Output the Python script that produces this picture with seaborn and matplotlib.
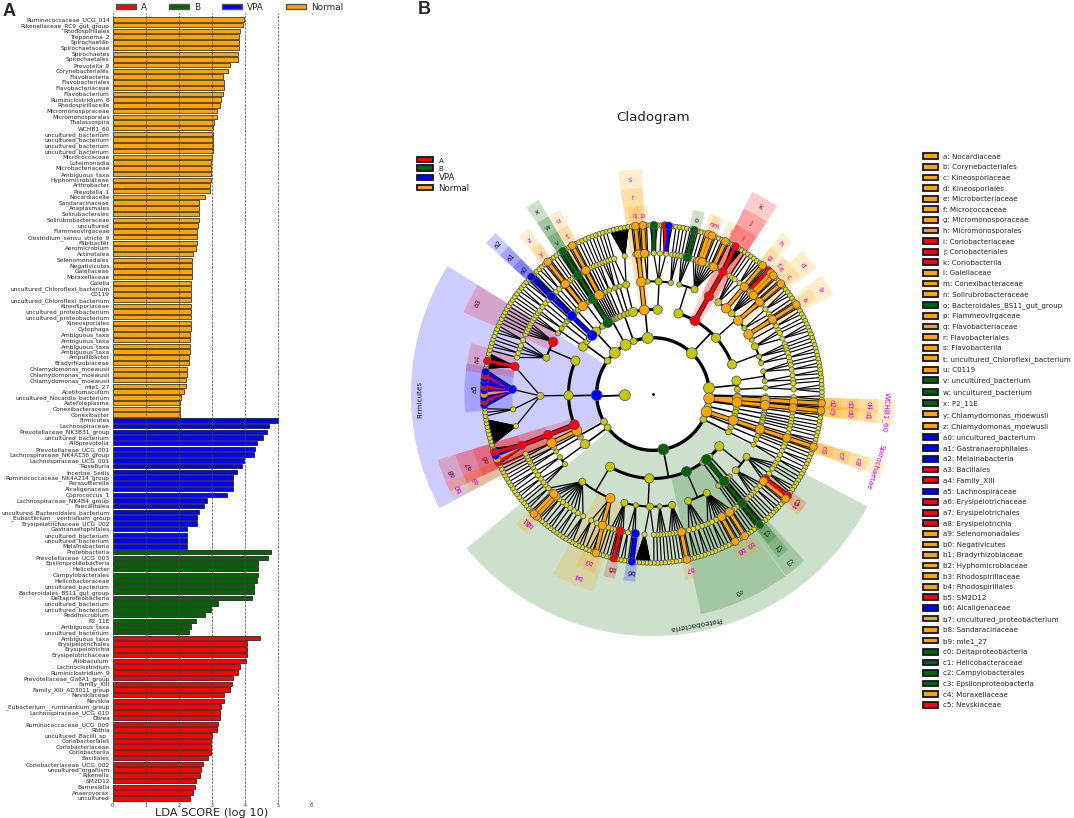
import numpy as np
import pandas as pd
import matplotlib
matplotlib.use('Agg')
import matplotlib.pyplot as plt
from matplotlib.collections import LineCollection
from matplotlib.patches import Patch, Wedge
import seaborn as sns

# ── Panel A data: LDA scores per group ────────────────────────────────────────
normal_taxa = [
    'Ruminococcaceae_UCG_014', 'Rikenellaceae_RC9_gut_group', 'Rhodospirillales', 'Treponema_2',
    'Spirochaetae', 'Spirochaetaceae', 'Spirochaetes', 'Spirochaetales', 'Prevotella_9',
    'Corynebacteriales', 'Flavobacteria', 'Flavobacteriales', 'Flavobacteriaceae', 'Flavobacterium',
    'Ruminiclostridium_6', 'Rhodospirillaceae', 'Micromonosporaceae', 'Micromonosporales',
    'Thalassospira', 'WCHB1_60', 'uncultured_bacterium', 'uncultured_bacterium',
    'uncultured_bacterium', 'uncultured_bacterium', 'Micrococcaceae', 'Luteimonadia',
    'Microbacteriaceae', 'Ambiguous_taxa', 'Hyphomicrobiaceae', 'Arthrobacter', 'Prevotella_1',
    'Nocardiaceae', 'Sandaracinaceae', 'Anaplasmales', 'Solirubacterales', 'Solirubrobacteraceae',
    'uncultured', 'Flammeovirgaceae', 'Clostridium_sensu_stricto_9', 'Fabibacter', 'Aeromicrobium',
    'Actinotalea', 'Selenomonadales', 'Negativicutes', 'Galellaceae', 'Moraxellaceae', 'Galella',
    'uncultured_Chloroflexi_bacterium', 'C0119', 'uncultured_Chloroflexi_bacterium',
    'Kineosporiaceae', 'uncultured_proteobacterium', 'uncultured_proteobacterium', 'Kineosporiales',
    'Cytophaga', 'Ambiguous_taxa', 'Ambiguous_taxa', 'Ambiguous_taxa', 'Ambiguous_taxa',
    'Ampullibacter', 'Bradyrhizobiaceae', 'Chlamydomonas_moewusii', 'Chlamydomonas_moewusii',
    'Chlamydomonas_moewusii', 'mle1_27', 'Acetitomaculum', 'uncultured_Nocardia_bacterium',
    'Asteroleplasma', 'Conexibacteraceae', 'Conexibacter',
]
normal_scores = [
    3.95, 3.94, 3.85, 3.82, 3.82, 3.82, 3.78, 3.77, 3.55, 3.47, 3.34, 3.35, 3.35, 3.34, 3.27, 3.24,
    3.15, 3.16, 3.05, 3.03, 3.02, 3.02, 3.02, 3.02, 3.00, 2.98, 2.97, 2.96, 2.96, 2.95, 2.94, 2.79,
    2.62, 2.62, 2.60, 2.60, 2.58, 2.56, 2.55, 2.55, 2.53, 2.42, 2.41, 2.40, 2.39, 2.39, 2.38, 2.38,
    2.38, 2.38, 2.36, 2.36, 2.36, 2.36, 2.36, 2.34, 2.33, 2.34, 2.34, 2.32, 2.30, 2.25, 2.25, 2.23,
    2.22, 2.15, 2.08, 2.05, 2.05, 2.05,
]
vpa_taxa = [
    'Firmicutes', 'Lachnospiraceae', 'Prevotellaceae_NK3B31_group', 'uncultured_bacterium',
    'Alloprevotella', 'Prevotellaceae_UCG_001', 'Lachnospiraceae_NK4A136_group',
    'Lachnospiraceae_UCG_001', 'Roseburia', 'Incertae_Sedis', 'Ruminococcaceae_NK4A214_group',
    'Parasutterella', 'Alcaligenaceae', 'Coprococcus_1', 'Lachnospiraceae_NK4B4_group', 'Faecalitalea',
    'uncultured_Bacteroidales_bacterium', '_Eubacterium__ventriosum_group',
    'Erysipelotrichaceae_UCG_002', 'Gastranaerophilales', 'uncultured_bacterium',
    'uncultured_bacterium', 'Melainabacteria',
]
vpa_scores = [
    5.00, 4.73, 4.67, 4.53, 4.36, 4.31, 4.27, 3.96, 3.90, 3.74, 3.63, 3.62, 3.62, 3.45, 2.84, 2.75,
    2.62, 2.54, 2.54, 2.25, 2.25, 2.25, 2.25,
]
b_taxa = [
    'Proteobacteria', 'Prevotellaceae_UCG_003', 'Epsilonproteobacteria', 'Helicobacter',
    'Campylobacterales', 'Helicobacteraceae', 'uncultured_bacterium', 'Bacteroidales_BS11_gut_group',
    'Deltaproteobacteria', 'uncultured_bacterium', 'uncultured_bacterium', 'Pedomicrobium', 'P2_11E',
    'Ambiguous_taxa', 'uncultured_bacterium',
]
b_scores = [4.77, 4.69, 4.39, 4.38, 4.38, 4.37, 4.26, 4.26, 4.20, 3.19, 2.98, 2.78, 2.53, 2.36, 2.32]
a_taxa = [
    'Ambiguous_taxa', 'Erysipelotrichales', 'Erysipelotrichia', 'Erysipelotrichaceae', 'Allobaculum',
    'Lachnoclostridium', 'Ruminiclostridium_9', 'Prevotellaceae_Ga6A1_group', 'Family_XIII',
    'Family_XIII_AD3011_group', 'Nevskiaceae', 'Nevskia', '_Eubacterium__ruminantium_group',
    'Lachnospiraceae_UCG_010', 'Dorea', 'Ruminococcaceae_UCG_009', 'Rothia', 'uncultured_Bacilli_sp_',
    'Coriobacteriales', 'Coriobacteriaceae', 'Coriobacteriia', 'Bacillales',
    'Coriobacteriaceae_UCG_002', 'uncultured_organism', 'Rikenella', 'SM2D12', 'Barnesiella',
    'Anaerovorax', 'uncultured',
]
a_scores = [
    4.46, 4.05, 4.05, 4.05, 4.03, 3.85, 3.78, 3.62, 3.60, 3.53, 3.36, 3.36, 3.27, 3.25, 3.25, 3.19,
    3.14, 3.00, 2.98, 2.97, 2.97, 2.88, 2.73, 2.67, 2.65, 2.53, 2.48, 2.44, 2.34,
]
score_ticks = [0, 1, 2, 3, 4, 5, 6]
group_names = ['A', 'B', 'VPA', 'Normal']

# ── Panel B data: clade legend ────────────────────────────────────────────────
clade_keys = list('abcdefghijklmnopqrstuvwxyz') + ['a%d' % i for i in range(10)] + \
    ['b%d' % i for i in range(10)] + ['c%d' % i for i in range(6)]
clade_names = [
    'Nocardiaceae', 'Corynebacteriales', 'Kineosporiaceae', 'Kineosporiales', 'Microbacteriaceae',
    'Micrococcaceae', 'Micromonosporaceae', 'Micromonosporales', 'Coriobacteriaceae',
    'Coriobacteriales', 'Coriobacteriia', 'Galellaceae', 'Conexibacteraceae', 'Solirubrobacteraceae',
    'Bacteroidales_BS11_gut_group', 'Flammeovirgaceae', 'Flavobacteriaceae', 'Flavobacteriales',
    'Flavobacteriia', 'uncultured_Chloroflexi_bacterium', 'C0119', 'uncultured_bacterium',
    'uncultured_bacterium', 'P2_11E', 'Chlamydomonas_moewusii', 'Chlamydomonas_moewusii',
    'uncultured_bacterium', 'Gastranaerophilales', 'Melainabacteria', 'Bacillales', 'Family_XIII',
    'Lachnospiraceae', 'Erysipelotrichaceae', 'Erysipelotrichales', 'Erysipelotrichia',
    'Selenomonadales', 'Negativicutes', 'Bradyrhizobiaceae', 'Hyphomicrobiaceae', 'Rhodospirillaceae',
    'Rhodospirillales', 'SM2D12', 'Alcaligenaceae', 'uncultured_proteobacterium', 'Sandaracinaceae',
    'mle1_27', 'Deltaproteobacteria', 'Helicobacteraceae', 'Campylobacterales', 'Epsilonproteobacteria',
    'Moraxellaceae', 'Nevskiaceae',
]
clade_groups = list('oooooooo' + 'rrr' + 'ooo' + 'g' + 'oooooo' + 'ggg' + 'oo' + 'bbb' + 'rr' + 'b' +
                    'rrr' + 'oo' + 'oooo' + 'r' + 'b' + 'ooo' + 'gggg' + 'o' + 'r')

# ── Panel B data: the taxonomic tree, clockwise from 3 o'clock ────────────────
# a tuple is (tags, children...), where the tags are one node per level and "o:q" means
# colour o, clade label q; a list is a yellow node; a number is a yellow branch with that many genera
wchb = ('o:WCHB1_60', ('o:d4 o:d3 o:d2 o',), 1, ('o:d1 o:d0 o:c9 o',))
before_spiro = [[1, 1], [1, 1], [1, 2]]
spirochaetae = ('o:Spirochaetae o:c8 o:c7 o:c6 o',)
after_spiro = [[1, 1], [1, 2]]
small_right = [[[1, 2]]]
proteobacteria = ('g:Proteobacteria',
    ('y', [1, 1, 1, 3, ('r:c5 r',), ('o:c4 o',)], [1, 1, 2, 1, 1]),
    [1, 1],
    ('g:c3', [1], ('g:c2 g:c1 g',), [1]),
    [1, 1],
    ('g:c0', [1, ('o:b9 o',), 1, 1, ('o:b8 o',), 1, 1, 2, 1], [1, 1, 2, 1, 2]),
    ('y', [1, ('o:b7 o',), 1, 1, 1, 1], [1, 1, 1, 1], [1, 5], [('b:b6 b',), 1, 2],
     [1, ('r:b5 r',), 1, 1, 1]),
    ('y', ('o:b4', 1, ('o:b3', ('o',), 1, 1), 1, 3),
     [3, 1, 2, 1, 2, 1, 2, ('o:b2 o',), ('o:b1 o',), 1, 2]),
)
small_lower_a = [[[1, 1, 2], [1, 2]]]
small_lower_b = [[[1, 1]], [[1, 1]]]
firmicutes = ('b:Firmicutes',
    ('o:b0 o:a9', 1, 1),
    ('r:a8 r:a7 r:a6', ('r',), ('o',), ('b',), ('r',), ('y',)),
    ('y y', 8, 3,
     ('b:a5', ('b',), ('r',), ('b',), ('o',), ('b',), ('r',), ('b',), ('b',), ('r',), ('b',)),
     ('r:a4', 2, ('r',), 2)),
    ('y', [1, 2, 1, 1, 3], ('r:a3', 1, 1, 1, 1, 1)),
)
small_left = [[[1, 1, 1], [1, 1]], [[2]]]
melaina = [[1, 2], ('b:a2 b:a1 b:a0 b',), [1, 1, 2, 1], ('y', ('o:z o:y o',), 1, 1, 1)]
chloroflexi = [1, ('g:x g:w g:v g',), 1, 1, ('y o:u o:t o',), 1, 1, 1]
small_top = [[[1, 1]], [[1, 1, 1]], 1]
bacteroidetes = [[[1, 6]], ('o:s o:r', 1, ('o:q o',), 1),
                 ('y', [('o:p o',), 1], ('y', ('y', ('y',), ('g',), 1), 1, ('y', ('r',), ('b',), 1)),
                  [1, 1, 1])]
actinobacteria = [
    ('y', [1, 1, ('g:o g',), 1], [1, 1, ('o:n o',), ('o:m o',), 1, 1, 1, ('o:l o',), 1]),
    ('r:k r:j r:i', 1, ('r',), 2),
    ('y', [1, 1, 1, 3], ('o:h o:g o',), [1, ('y r',), ('o:f o',), ('o:e o',), 1],
     ('o:d', 1, ('o:c o',), 1), [3, 1], ('o:b', 1, ('o:a o',), 1), [2]),
    [[1, 1, 3], [1, 1, 1], [1, 2]],
]
small_end = [[[1, 1, 2], [2, 1]], [[1, 3]]]
phyla = [2, wchb, 2, before_spiro, spirochaetae, after_spiro, small_right, proteobacteria,
         small_lower_a, small_lower_b, firmicutes, small_left, melaina, chloroflexi, small_top,
         bacteroidetes, actinobacteria, small_end]

# ── Styles ────────────────────────────────────────────────────────────────────
W, H = 1074, 818
group_colors = {'A': '#ff0000', 'B': '#006400', 'VPA': '#0000ff', 'Normal': '#ffa500'}
code_colors = {'r': '#ff0000', 'g': '#006400', 'b': '#0000ff', 'o': '#ffa500',
               'y': '#c8c800', 'l': '#dcdc10'}
label_colors = {'r': '#661122', 'g': '#0c2c0c', 'b': '#101060', 'o': '#cc00cc'}


def px_rect(left, top, right, bottom):
    return [left / W, 1 - bottom / H, (right - left) / W, (bottom - top) / H]


sns.set_style('white')
fig = plt.figure(figsize=(W / 100, H / 100), dpi=100)

# ── Panel A: LDA bars ─────────────────────────────────────────────────────────
taxa = normal_taxa + vpa_taxa + b_taxa + a_taxa
bars = pd.DataFrame({
    'row': np.arange(len(taxa)),
    'score': normal_scores + vpa_scores + b_scores + a_scores,
    'group': ['Normal'] * len(normal_taxa) + ['VPA'] * len(vpa_taxa) + ['B'] * len(b_taxa) + ['A'] * len(a_taxa),
})
ax_bar = fig.add_axes(px_rect(112.5, 14, 311.5, 802))
sns.barplot(data=bars, x='score', y='row', hue='group', hue_order=group_names, palette=group_colors,
            orient='y', dodge=False, width=0.78, saturation=1, edgecolor='black', linewidth=0.45,
            legend=False, ax=ax_bar)
ax_bar.set_xlim(0, 6)
ax_bar.set_ylim(136.65, -0.94)
ax_bar.set_xticks(score_ticks)
ax_bar.set_yticks(bars['row'])
ax_bar.set_yticklabels(taxa, fontsize=4.2, color='#222222')
ax_bar.tick_params(axis='y', length=0, pad=2)
ax_bar.tick_params(axis='x', length=1, width=0.5, labelsize=3.4, pad=0, top=True, bottom=True, color='#333333')
ax_bar.set_axisbelow(False)
ax_bar.grid(axis='x', linestyle='--', linewidth=0.5, color='#444444')
ax_bar.grid(axis='y', visible=False)
ax_bar.set_ylabel('')
ax_bar.set_xlabel('LDA SCORE (log 10)', fontsize=8.2, color='#222222', va='center')
ax_bar.xaxis.set_label_coords(0.5, -0.0138)
sns.despine(ax=ax_bar, left=True, bottom=True, right=True, top=True)

top_handles = [Patch(facecolor=group_colors[g], edgecolor='#555555', linewidth=1.0) for g in group_names]
fig.legend(handles=top_handles, labels=group_names, loc='upper left', bbox_to_anchor=(116 / W, 1 - 2.5 / H),
           ncol=4, frameon=False, fontsize=6.4, handlelength=2.2, handleheight=0.45, handletextpad=0.6,
           columnspacing=2.5, borderpad=0, borderaxespad=0)

fig.text(3 / W, 1 - 11 / H, 'A', fontsize=13, fontweight='bold', family='Liberation Sans', va='center')
fig.text(418 / W, 1 - 9 / H, 'B', fontsize=13, fontweight='bold', family='Liberation Sans', va='center')


# ── Panel B: tree building and layout ─────────────────────────────────────────
def new_node(tag, level, children):
    code, _, label = tag.partition(':')
    return {'code': code, 'label': label, 'level': level, 'children': children}


def make_children(items, level):
    out = []
    for item in items:
        if isinstance(item, int):
            if level == 4:
                out += [new_node('y', 5, []) for _ in range(item)]
            else:
                out.append(new_node('y', level + 1, make_children([item], level + 1)))
        elif isinstance(item, list):
            out.append(new_node('y', level + 1, make_children(item, level + 1)))
        else:
            tags = item[0].split()
            children = make_children(item[1:], level + len(tags))
            for i in range(len(tags) - 1, -1, -1):
                node = new_node(tags[i], level + 1 + i, children)
                children = [node]
            out.append(node)
    return out


root = new_node('y', 0, make_children(phyla, 0))


def collect(node, acc):
    acc.append(node)
    for child in node['children']:
        collect(child, acc)
    return acc


all_nodes = collect(root, [])
n_slots = sum(1 for n in all_nodes if not n['children'])
step = 360.0 / n_slots
slot = [0]


def place(node):
    if node['children']:
        for child in node['children']:
            place(child)
        node['theta'] = 0.5 * (node['children'][0]['theta'] + node['children'][-1]['theta'])
        node['low'] = node['children'][-1]['low']
        node['high'] = node['children'][0]['high']
        node['slots'] = sum(c['slots'] for c in node['children'])
    else:
        node['theta'] = -step * (slot[0] + 0.5)
        node['low'] = node['high'] = node['theta']
        node['slots'] = 1
        slot[0] += 1


place(root)


def polar(r, theta):
    return r * np.cos(np.radians(theta)), r * np.sin(np.radians(theta))


# node radius in ring units, one ring being 28.15 px
def ring(level):
    return level + 1.0


ax = fig.add_axes(px_rect(653 - 261.8, 394 - 261.8, 653 + 261.8, 394 + 261.8))

# shaded clade bands and their labels
band_end = {1: 8.6, 2: 8.0, 3: 7.33, 4: 6.7}
label_ring = {1: 8.3, 2: 7.65, 3: 7.0, 4: 6.35}
pad = 1.8
for node in all_nodes:
    if not node['label']:
        continue
    lev = node['level']
    r0 = ring(lev)
    ax.add_patch(Wedge((0, 0), band_end[lev], node['low'] - pad, node['high'] + pad,
                       width=band_end[lev] - r0, facecolor=code_colors[node['code']], alpha=0.2,
                       edgecolor='none', zorder=1))
    lx, ly = polar(label_ring[lev], node['theta'])
    size = 5.0 if lev > 1 else 5.2
    ax.text(lx, ly, node['label'], rotation=node['theta'] - 90, rotation_mode='anchor', ha='center',
            va='center', fontsize=size, color=label_colors[node['code']], zorder=7)

# branches: radial stem plus arc for the inner rings, straight fans for the outer two
thin_segs, thin_lw = [], []
arc_segs, arc_lw = [], []
color_edges = []
arc_width = {1: 2.4, 2: 2.2, 3: 1.5}
stem_width = {1: 1.3, 2: 1.2, 3: 1.0, 4: 0.9, 5: 0.85}
for node in all_nodes:
    kids = node['children']
    if not kids:
        continue
    lev = node['level'] + 1
    px0, py0 = polar(ring(node['level']), node['theta'])
    if lev <= 3:
        thin_segs.append([(px0, py0), polar(ring(lev), node['theta'])])
        thin_lw.append(stem_width[lev])
        lo = min(kids[-1]['theta'], node['theta'])
        hi = max(kids[0]['theta'], node['theta'])
        if hi > lo:
            t = np.linspace(lo, hi, max(2, int(hi - lo) + 2))
            arc_segs.append(np.column_stack(polar(ring(lev), t)))
            arc_lw.append(arc_width[lev])
    else:
        for kid in kids:
            thin_segs.append([(px0, py0), polar(ring(lev), kid['theta'])])
            thin_lw.append(stem_width[lev])
        if lev == 5 and len(kids) >= 4:
            p1 = polar(ring(5), kids[0]['theta'])
            p2 = polar(ring(5), kids[-1]['theta'])
            ax.fill([px0, p1[0], p2[0]], [py0, p1[1], p2[1]], color='black', zorder=2)
    for kid in kids:
        # a coloured branch needs a coloured parent, except for the last hop to a genus
        if kid['code'] != 'y' and (lev == 5 or node['code'] != 'y') and abs(kid['theta'] - node['theta']) < 9:
            color_edges.append(([(px0, py0), polar(ring(kid['level']), kid['theta'])], kid['code']))

ax.add_collection(LineCollection(thin_segs, colors='black', linewidths=thin_lw, zorder=2))
ax.add_collection(LineCollection(arc_segs, colors='black', linewidths=arc_lw, zorder=3))
ax.add_collection(LineCollection([e[0] for e in color_edges], colors='black', linewidths=3.6, zorder=4))
ax.add_collection(LineCollection([e[0] for e in color_edges], colors=[code_colors[e[1]] for e in color_edges],
                                 linewidths=2.3, zorder=4))


# nodes go through seaborn, coloured ones on top
def node_size(node):
    lev, code = node['level'], node['code']
    if code != 'y':
        return {1: 60, 2: 50, 3: 46, 4: 36, 5: 30}[lev]
    if lev == 0:
        return 62
    if lev == 1:
        return 62 if node['slots'] >= 8 else 24
    if lev == 2:
        return 44 if node['slots'] >= 5 else 18
    if lev == 3:
        return 26 if node['slots'] >= 5 else 14
    return 14 if lev == 4 else 12


rows = []
for node in all_nodes:
    x, y = polar(ring(node['level']), node['theta'])
    code = node['code']
    if code == 'y' and node['level'] >= 4:
        code = 'l'
    rows.append({'x': x, 'y': y, 'code': code, 'size': node_size(node), 'front': int(code not in 'yl')})
nodes = pd.DataFrame(rows).sort_values('front', kind='stable')
sns.scatterplot(data=nodes, x='x', y='y', hue='code', palette=code_colors, size='size',
                sizes={v: v for v in nodes['size'].unique()}, edgecolor='#50507a', linewidth=0.55,
                legend=False, zorder=5, ax=ax)
ax.plot([0], [0], marker='o', markersize=1, color='black', zorder=5)
ax.set_xlim(-9.3, 9.3)
ax.set_ylim(-9.3, 9.3)
ax.axis('off')

fig.text(653 / W, 1 - 117 / H, 'Cladogram', fontsize=9.6, ha='center', va='center', color='#222222')

# legends of panel B
left_handles = [Patch(facecolor=group_colors[g], edgecolor='#14142a', linewidth=1.3) for g in group_names]
leg = fig.legend(handles=left_handles, labels=group_names, loc='upper left', bbox_to_anchor=(417 / W, 1 - 157 / H),
                 frameon=False, fontsize=6.2, handlelength=1.85, handleheight=0.6, handletextpad=0.65,
                 labelspacing=0.16, borderpad=0, borderaxespad=0, labelcolor='#222222')
for txt in leg.get_texts()[:2]:
    txt.set_fontsize(5)

code_to_color = {'o': group_colors['Normal'], 'r': group_colors['A'], 'g': group_colors['B'], 'b': group_colors['VPA']}
right_handles = [Patch(facecolor=code_to_color[c], edgecolor='#14142a', linewidth=1.3) for c in clade_groups]
right_labels = ['%s: %s' % (k, n) for k, n in zip(clade_keys, clade_names)]
fig.legend(handles=right_handles, labels=right_labels, loc='upper left', bbox_to_anchor=(922.5 / W, 1 - 153.5 / H),
           frameon=False, fontsize=5.1, handlelength=2.15, handleheight=0.88, handletextpad=0.8,
           labelspacing=0.6, borderpad=0, borderaxespad=0, labelcolor='#222222')

fig.savefig('out.png', dpi=100)
